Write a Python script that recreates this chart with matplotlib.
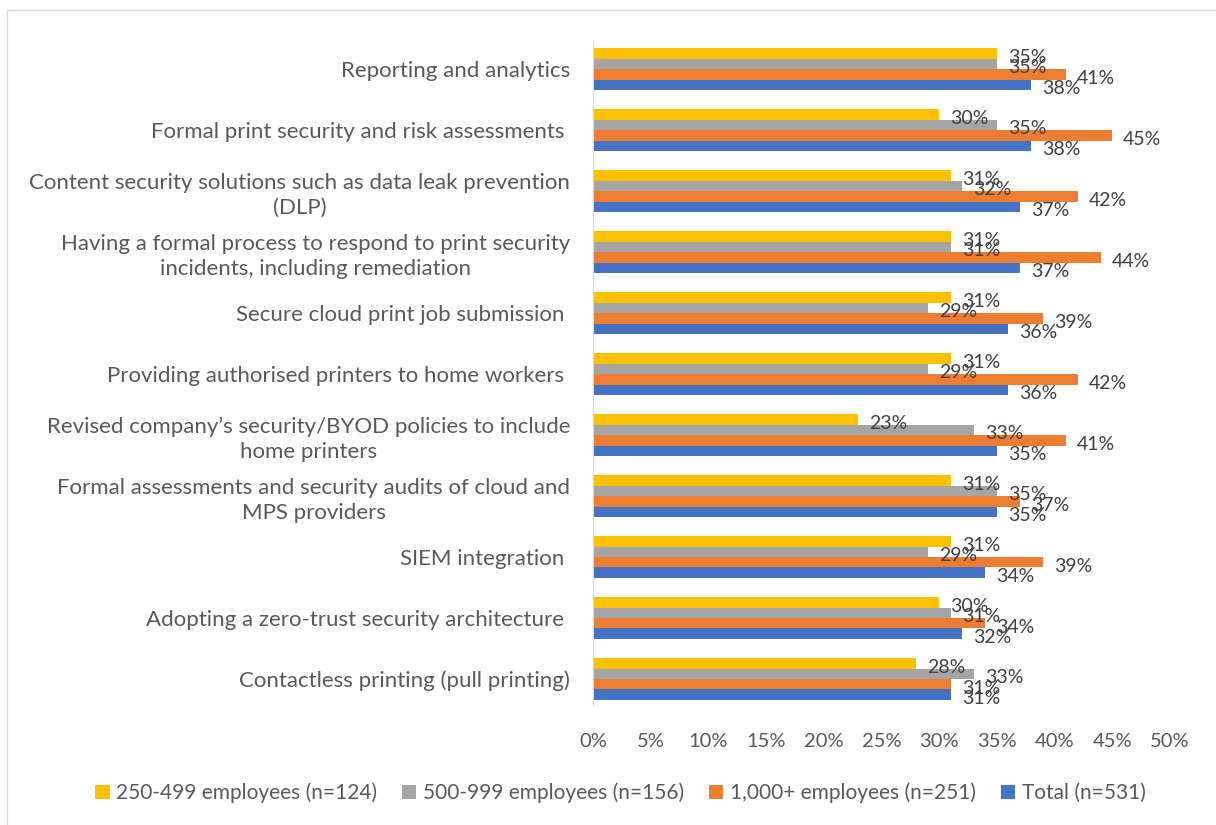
import numpy as np
import matplotlib
matplotlib.use('Agg')
import matplotlib.pyplot as plt
from matplotlib.patches import Rectangle

plt.rcParams['font.family'] = ['Lato', 'DejaVu Sans']

categories = [
    'Reporting and analytics',
    'Formal print security and risk assessments ',
    'Content security solutions such as data leak prevention\n(DLP)',
    'Having a formal process to respond to print security\nincidents, including remediation',
    'Secure cloud print job submission ',
    'Providing authorised printers to home workers ',
    'Revised company\u2019s security/BYOD policies to include\nhome printers',
    'Formal assessments and security audits of cloud and\nMPS providers',
    'SIEM integration ',
    'Adopting a zero-trust security architecture ',
    'Contactless printing (pull printing)',
]

# values in %
small = [35, 30, 31, 31, 31, 31, 23, 31, 31, 30, 28]   # 250-499
mid = [35, 35, 32, 31, 29, 29, 33, 35, 29, 31, 33]     # 500-999
large = [41, 45, 42, 44, 39, 42, 41, 37, 39, 34, 31]   # 1,000+
total = [38, 38, 37, 37, 36, 36, 35, 35, 34, 32, 31]

series_names = ['250-499 employees (n=124)', '500-999 employees (n=156)',
                '1,000+ employees (n=251)', 'Total (n=531)']
colors = ['#FFC000', '#A5A5A5', '#ED7D31', '#4472C4']
x_ticks = [0, 5, 10, 15, 20, 25, 30, 35, 40, 45, 50]

text_col = '#595959'

fig = plt.figure(figsize=(12.16, 8.25), dpi=100)
ax = fig.add_axes([0.4877, 0.14, 0.962 - 0.4877, 0.8133])

y = np.arange(len(categories))
h = 0.172
all_series = [small, mid, large, total]
for k, vals in enumerate(all_series):
    pos = y + (k - 1.5) * h
    ax.barh(pos, vals, height=h, color=colors[k], label=series_names[k])
    for p, v in zip(pos, vals):
        ax.annotate('%d%%' % v, xy=(v, p), xytext=(8, -3), textcoords='offset points',
                    ha='left', va='center', fontsize=14, color='#404040')

ax.set_ylim(len(categories) - 0.5, -0.5)
ax.set_xlim(0, 50)
ax.set_xticks(x_ticks)
ax.set_xticklabels(['%d%%' % t for t in x_ticks])
ax.set_yticks(y)
ax.set_yticklabels(categories)
for lbl in ax.get_yticklabels():
    lbl.set_multialignment('center')
    lbl.set_linespacing(1.3)

ax.tick_params(axis='x', length=0, pad=17, labelsize=14.5, labelcolor=text_col)
ax.tick_params(axis='y', length=0, pad=16.5, labelsize=16, labelcolor=text_col)

for s in ['top', 'right', 'bottom']:
    ax.spines[s].set_visible(False)
ax.spines['left'].set_color('#D9D9D9')
ax.spines['left'].set_bounds(-0.45, len(categories) - 0.55)

fig.legend(loc='center', bbox_to_anchor=(0.51, 0.039), ncol=4, frameon=False,
           fontsize=15, labelcolor=text_col, handlelength=0.7, handleheight=0.7,
           handletextpad=0.3, columnspacing=1.2)

# chart area border
fig.patches.append(Rectangle((7 / 1216, -0.01), 1.0, 1 - 10 / 825 + 0.01,
                             transform=fig.transFigure, fill=False,
                             edgecolor='#D9D9D9', linewidth=1))

fig.savefig('out.png', dpi=100)
